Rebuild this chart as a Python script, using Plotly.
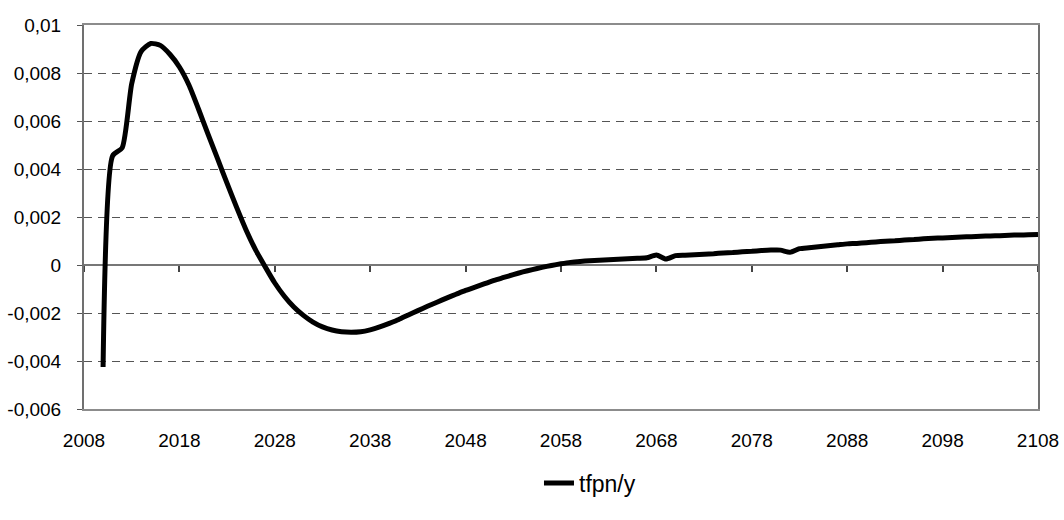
import plotly.graph_objects as go

years = list(range(2010, 2109))
tfpn_y = [
    -0.00425, 0.00455, 0.00488, 0.00755, 0.00890, 0.00923, 0.00915, 0.00878, 0.00825, 0.00750,  # 2010-2019
    0.00650, 0.00545, 0.00443, 0.00340, 0.00240, 0.00145, 0.00062, -0.00008, -0.00075, -0.00130,  # 2020-2029
    -0.00175, -0.00210, -0.00238, -0.00258, -0.00271, -0.00278, -0.00280, -0.00278, -0.00270, -0.00258,  # 2030-2039
    -0.00243, -0.00227, -0.00208, -0.00190, -0.00172, -0.00155, -0.00138, -0.00122, -0.00106, -0.00092,  # 2040-2049
    -0.00078, -0.00064, -0.00052, -0.00040, -0.00029, -0.00019, -0.00010, -0.00002, 0.00005, 0.00011,  # 2050-2059
    0.00015, 0.00018, 0.00020, 0.00022, 0.00024, 0.00026, 0.00028, 0.00030, 0.00042, 0.00025,  # 2060-2069
    0.00039, 0.00041, 0.00043, 0.00045, 0.00047, 0.00050, 0.00052, 0.00055, 0.00057, 0.00060,  # 2070-2079
    0.00062, 0.00062, 0.00053, 0.00068, 0.00072, 0.00076, 0.00080, 0.00084, 0.00088, 0.00090,  # 2080-2089
    0.00093, 0.00096, 0.00099, 0.00101, 0.00104, 0.00106, 0.00109, 0.00111, 0.00113, 0.00115,  # 2090-2099
    0.00117, 0.00118, 0.00120, 0.00121, 0.00122, 0.00124, 0.00125, 0.00126, 0.00127,  # 2100-2108
]

x_tick_vals = list(range(2008, 2109, 10))
x_tick_text = [str(v) for v in x_tick_vals]
y_tick_vals = [-0.006, -0.004, -0.002, 0, 0.002, 0.004, 0.006, 0.008, 0.01]
y_tick_text = ["-0,006", "-0,004", "-0,002", "0", "0,002", "0,004", "0,006", "0,008", "0,01"]

FONT = "Liberation Sans, Arial, sans-serif"

fig = go.Figure()
fig.add_trace(go.Scatter(
    x=years, y=tfpn_y, name="tfpn/y", mode="lines",
    line=dict(color="black", width=5, shape="spline", smoothing=0.6),
))
# invisible trace hosting the zero-crossing axis that carries the decade tick marks
fig.add_trace(go.Scatter(
    x=years, y=tfpn_y, xaxis="x2", mode="lines", showlegend=False,
    line=dict(color="rgba(0,0,0,0)", width=0), hoverinfo="skip",
))

fig.update_layout(
    width=1064, height=520,
    margin=dict(l=84, r=26, t=25, b=111, autoexpand=False),
    paper_bgcolor="white", plot_bgcolor="white",
    font=dict(family=FONT, size=19, color="black"),
    showlegend=True,
    legend=dict(orientation="h", xref="container", yref="container",
                x=0.5545, xanchor="center", y=0.0712, yanchor="middle",
                font=dict(size=23), itemwidth=30),
    xaxis=dict(
        range=[2008, 2108], tickvals=x_tick_vals, ticktext=x_tick_text,
        showgrid=False, zeroline=False, ticks="", ticklabelstandoff=13,
        ticklabeloverflow="allow",
        showline=True, linecolor="#8c8c8c", linewidth=2, mirror=True,
    ),
    xaxis2=dict(
        range=[2008, 2108], overlaying="x", anchor="free", position=0.375,
        tickvals=x_tick_vals, showticklabels=False, ticks="outside", ticklen=6,
        tickcolor="#444", tickwidth=1.5, showline=True, linecolor="#777", linewidth=1.5,
        showgrid=False, zeroline=False, layer="below traces",
    ),
    yaxis=dict(
        range=[-0.006, 0.01], tickvals=y_tick_vals, ticktext=y_tick_text,
        showgrid=True, gridcolor="#555", griddash="8px,6px", gridwidth=1,
        zeroline=False, ticks="outside", ticklen=5, tickcolor="#555",
        ticklabelstandoff=12,
        showline=True, linecolor="#707070", linewidth=2, mirror=True,
    ),
)

# remove the default page margin so the 1064x520 figure fills the window exactly
fig.write_html(
    "out.html",
    config={"displayModeBar": False},
    post_script="document.body.style.margin='0';document.body.style.overflow='hidden';",
)
